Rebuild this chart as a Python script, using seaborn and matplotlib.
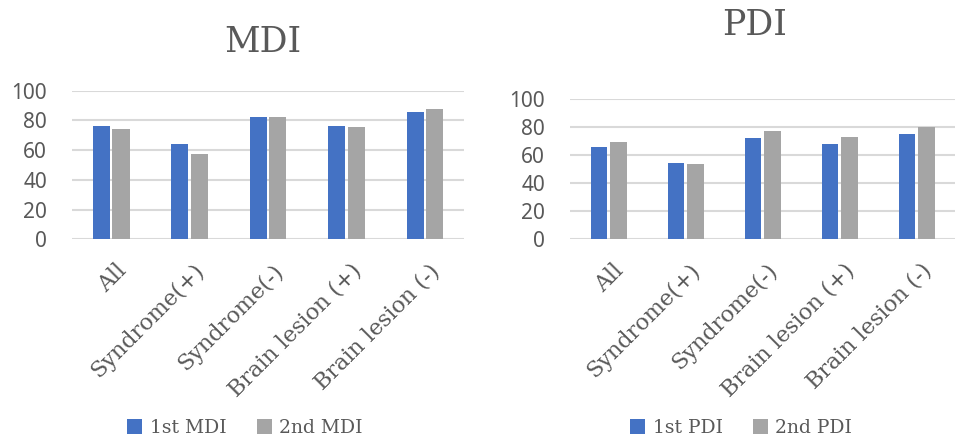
import matplotlib
matplotlib.use("Agg")
import matplotlib.pyplot as plt
import matplotlib.transforms as mtransforms
import seaborn as sns
import pandas as pd
from matplotlib.patches import Patch

# Developmental index scores by patient group
categories = ["All", "Syndrome(+)", "Syndrome(-)", "Brain lesion (+)", "Brain lesion (-)"]
mdi_first = [76, 64, 82, 76, 86]
mdi_second = [74, 57.5, 82, 75.5, 88]
pdi_first = [66, 54, 72, 67.5, 75]
pdi_second = [69.5, 53.5, 77, 73, 80]
mdi_series = ["1st MDI", "2nd MDI"]
pdi_series = ["1st PDI", "2nd PDI"]
y_ticks = [0, 20, 40, 60, 80, 100]

BLUE = "#4472C4"
GRAY = "#A5A5A5"
TEXT = "#595959"
GRID = "#D9D9D9"

sns.set_style("white")
plt.rcParams["font.family"] = ["DejaVu Serif"]


def long_table(first, second, names):
    return pd.DataFrame({
        "group": categories * 2,
        "score": list(first) + list(second),
        "series": [names[0]] * len(categories) + [names[1]] * len(categories),
    })


fig = plt.figure(figsize=(9.55, 4.43), dpi=100)
ax_m = fig.add_axes([0.0754, 0.4598, 0.4105, 0.3354])
ax_p = fig.add_axes([0.5969, 0.4612, 0.4031, 0.3153])

panels = [
    (ax_m, long_table(mdi_first, mdi_second, mdi_series), mdi_series, "MDI",
     (262.5 / 955, 1 - 42 / 443), (245 / 955, 1 - 428 / 443)),
    (ax_p, long_table(pdi_first, pdi_second, pdi_series), pdi_series, "PDI",
     (755 / 955, 1 - 25 / 443), (741 / 955, 1 - 428 / 443)),
]

# nudge rotated category labels slightly right and down
label_shift = mtransforms.ScaledTranslation(4 / 100, -4 / 100, fig.dpi_scale_trans)

for ax, df, names, title, title_pos, legend_pos in panels:
    sns.barplot(data=df, x="group", y="score", hue="series",
                palette=[BLUE, GRAY], saturation=1, width=0.5, gap=0.13,
                order=categories, hue_order=names, ax=ax, legend=False,
                edgecolor="none", linewidth=0)
    ax.set_ylim(0, 100)
    ax.set_xlim(-0.5, len(categories) - 0.5)
    ax.set_yticks(y_ticks)
    ax.set_yticklabels([str(v) for v in y_ticks], family="Noto Sans",
                       fontsize=15, color=TEXT)
    ax.tick_params(axis="y", length=0, pad=18)
    ax.tick_params(axis="x", length=0, pad=12)
    ax.set_xticks(range(len(categories)))
    ax.set_xticklabels(categories, rotation=45, ha="right",
                       rotation_mode="anchor", fontsize=16, color=TEXT)
    for lab in ax.get_xticklabels():
        lab.set_transform(lab.get_transform() + label_shift)
    ax.set_xlabel("")
    ax.set_ylabel("")
    for s in ax.spines.values():
        s.set_visible(False)
    ax.yaxis.grid(True, color=GRID, linewidth=1.5)
    ax.set_axisbelow(True)

    fig.text(title_pos[0], title_pos[1], title, ha="center", va="center",
             fontsize=25, color=TEXT)
    handles = [Patch(facecolor=BLUE, edgecolor="none"),
               Patch(facecolor=GRAY, edgecolor="none")]
    fig.legend(handles, names, loc="center", bbox_to_anchor=legend_pos,
               ncol=2, frameon=False, fontsize=13.5, labelcolor=TEXT,
               handlelength=0.8, handleheight=0.8, handletextpad=0.4,
               columnspacing=1.6)

fig.savefig("out.png", dpi=100, facecolor="white")
